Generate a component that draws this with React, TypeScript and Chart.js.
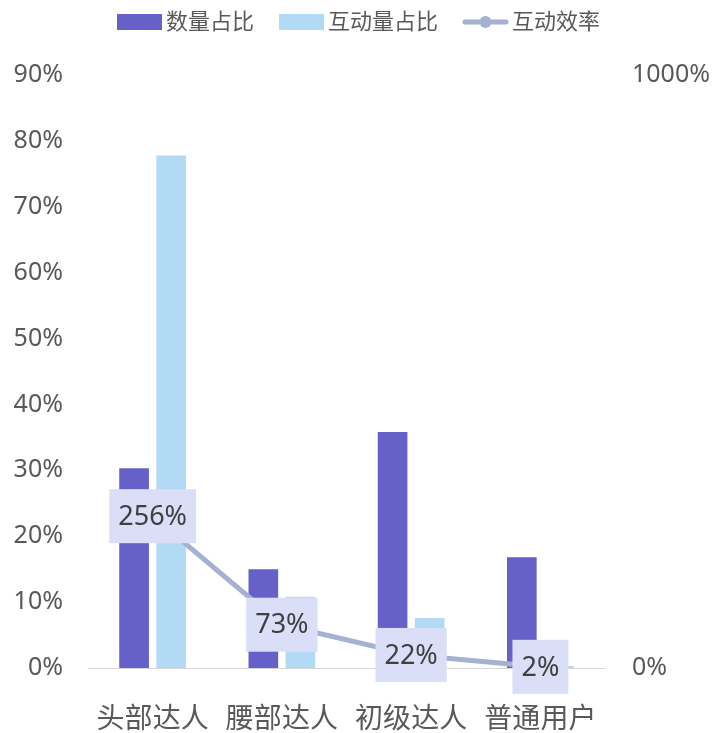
import React, { useEffect, useRef } from "react";
import { Chart, registerables } from "chart.js";

Chart.register(...registerables);

const categories = ["头部达人", "腰部达人", "初级达人", "普通用户"];
const countShare = [30.3, 15.0, 35.8, 16.8];
const interactShare = [77.8, 10.8, 7.6, 0.3];
const efficiency = [256, 73, 22, 2];
const seriesNames = ["数量占比", "互动量占比", "互动效率"];
const leftTicks = [0, 10, 20, 30, 40, 50, 60, 70, 80, 90];
const rightTicks = [0, 1000];

const DARK = "#6661c9";
const LIGHT = "#b3daf5";
const LINE = "#a5b1d1";
const FONT = "'Noto Sans', 'Noto Sans CJK SC', sans-serif";

const legendPlugin = {
  id: "customLegend",
  afterDraw(chart: any) {
    const ctx = chart.ctx;
    ctx.save();
    ctx.font = `22px ${FONT}`;
    const iconW = 45;
    const gap = 4;
    const spacing = 25;
    const widths = seriesNames.map((n) => iconW + gap + ctx.measureText(n).width);
    const total = widths.reduce((a, b) => a + b, 0) + spacing * (widths.length - 1);
    let x = (chart.width - total) / 2 + 2;
    const cy = 22;
    seriesNames.forEach((name, i) => {
      if (i === 0 || i === 1) {
        ctx.fillStyle = i === 0 ? DARK : LIGHT;
        ctx.fillRect(x, cy - 8, iconW, 16);
      } else {
        ctx.strokeStyle = LINE;
        ctx.lineWidth = 5;
        ctx.lineCap = "round";
        ctx.beginPath();
        ctx.moveTo(x + 2, cy);
        ctx.lineTo(x + iconW - 2, cy);
        ctx.stroke();
        ctx.fillStyle = LINE;
        ctx.beginPath();
        ctx.arc(x + iconW / 2, cy, 6, 0, Math.PI * 2);
        ctx.fill();
      }
      ctx.fillStyle = "#595959";
      ctx.textAlign = "left";
      ctx.textBaseline = "middle";
      ctx.fillText(name, x + iconW + gap, cy + 1);
      x += widths[i] + spacing;
    });
    ctx.restore();
  },
};

const labelPlugin = {
  id: "lineLabels",
  afterDatasetsDraw(chart: any) {
    const ctx = chart.ctx;
    const meta = chart.getDatasetMeta(2);
    ctx.save();
    ctx.font = `27px ${FONT}`;
    ctx.textAlign = "center";
    ctx.textBaseline = "middle";
    meta.data.forEach((pt: any, i: number) => {
      const text = efficiency[i] + "%";
      const w = ctx.measureText(text).width + 18;
      const h = 54;
      ctx.fillStyle = "#dadff7";
      ctx.fillRect(pt.x - w / 2, pt.y - h / 2, w, h);
      ctx.fillStyle = "#404040";
      ctx.fillText(text, pt.x, pt.y + 1);
    });
    ctx.restore();
  },
};

export default function App() {
  const ref = useRef<HTMLCanvasElement>(null);
  useEffect(() => {
    if (!ref.current) return;
    const chart = new Chart(ref.current, {
      type: "bar",
      data: {
        labels: categories,
        datasets: [
          {
            type: "bar",
            label: seriesNames[0],
            data: countShare,
            backgroundColor: DARK,
            yAxisID: "y",
            order: 2,
            categoryPercentage: 0.574,
            barPercentage: 0.8,
          },
          {
            type: "bar",
            label: seriesNames[1],
            data: interactShare,
            backgroundColor: LIGHT,
            yAxisID: "y",
            order: 2,
            categoryPercentage: 0.574,
            barPercentage: 0.8,
          },
          {
            type: "line",
            label: seriesNames[2],
            data: efficiency,
            borderColor: LINE,
            backgroundColor: LINE,
            borderWidth: 5,
            pointRadius: 5,
            yAxisID: "y1",
            order: 0,
          } as any,
        ],
      },
      options: {
        responsive: false,
        animation: false,
        layout: { padding: { top: 75, left: 0, right: 0, bottom: 0 } },
        plugins: {
          legend: { display: false },
          tooltip: { enabled: false },
        },
        scales: {
          x: {
            grid: { display: false, drawTicks: false },
            border: { display: true, color: "#d9d9d9", width: 1 },
            ticks: {
              padding: 35,
              color: "#595959",
              font: { size: 28, family: FONT },
              maxRotation: 0,
            },
            afterFit: (s: any) => {
              s.height = 65;
            },
          },
          y: {
            position: "left",
            min: 0,
            max: 90,
            grid: { display: false, drawTicks: false },
            border: { display: false },
            afterBuildTicks: (s: any) => {
              s.ticks = leftTicks.map((v) => ({ value: v }));
            },
            ticks: {
              padding: 25,
              color: "#595959",
              font: { size: 25, family: FONT },
              callback: (v: any) => v + "%",
            },
            afterFit: (s: any) => {
              s.width = 88;
            },
          },
          y1: {
            position: "right",
            min: 0,
            max: 1000,
            grid: { display: false, drawTicks: false },
            border: { display: false },
            afterBuildTicks: (s: any) => {
              s.ticks = rightTicks.map((v) => ({ value: v }));
            },
            ticks: {
              padding: 27,
              color: "#595959",
              font: { size: 25, family: FONT },
              callback: (v: any) => v + "%",
            },
            afterFit: (s: any) => {
              s.width = 108;
            },
          },
        },
      },
      plugins: [legendPlugin, labelPlugin],
    });
    return () => chart.destroy();
  }, []);
  return (
    <div style={{ position: "absolute", left: 0, top: 0, width: 713, height: 733 }}>
      <canvas ref={ref} width={713} height={733} style={{ display: "block" }} />
    </div>
  );
}
